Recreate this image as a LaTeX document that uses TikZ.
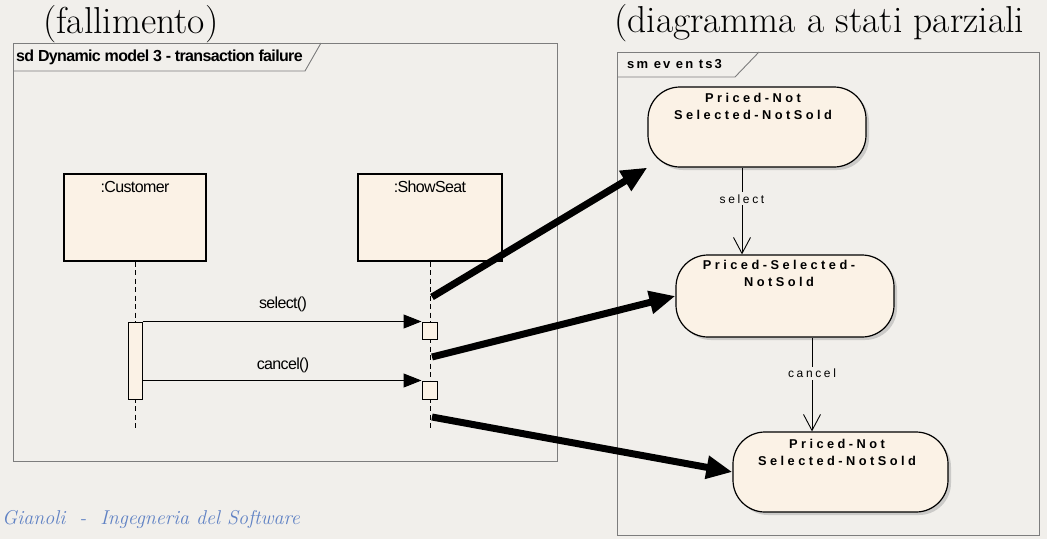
\documentclass[tikz,border=0pt]{standalone}
\usepackage{fontspec}
\usetikzlibrary{arrows.meta,shadows,calc}

% UML fonts
\newfontfamily\umlfont[LetterSpace=-4]{Liberation Sans}
\newfontfamily\statefont[LetterSpace=27]{Liberation Sans}
\newfontfamily\evfont[LetterSpace=22]{Liberation Sans}
\newfontfamily\smfont[LetterSpace=16]{Liberation Sans}

\definecolor{paper}{RGB}{241,239,235}
\definecolor{cream}{RGB}{251,242,230}
\definecolor{framegray}{RGB}{125,125,125}
\definecolor{footblue}{RGB}{96,130,196}

\begin{document}
\begin{tikzpicture}[x=1pt,y=-1pt,
  title/.style={font=\fontsize{37.5}{42}\selectfont\addfontfeatures{FakeBold=0.5}, inner sep=0pt},
  footer/.style={font=\itshape\fontsize{20}{24}\selectfont\addfontfeatures{FakeBold=0.4}, text=footblue, inner sep=0pt},
  frame/.style={draw=framegray, line width=0.9pt},
  sdtab/.style={font=\umlfont\bfseries\fontsize{16}{18}\selectfont, inner sep=0pt},
  smtab/.style={font=\smfont\bfseries\fontsize{13}{15}\selectfont, inner sep=0pt},
  obj/.style={rectangle, draw=black, fill=cream, line width=1.2pt, inner sep=0pt},
  objname/.style={font=\umlfont\fontsize{16}{18}\selectfont, inner sep=0pt},
  lifeline/.style={draw=black, line width=1pt, dash pattern=on 5pt off 3.5pt},
  msg/.style={draw=black, line width=1pt, -{Triangle[length=18pt,width=14pt]}},
  msglabel/.style={font=\umlfont\fontsize{16}{18}\selectfont, inner sep=0pt},
  state/.style={rectangle, rounded corners=32pt, draw=black, fill=cream, line width=1.2pt,
    drop shadow={shadow xshift=3pt, shadow yshift=-3pt, fill=black!35}},
  statename/.style={font=\statefont\bfseries\fontsize{12.8}{17}\selectfont, align=center, inner sep=0pt},
  trans/.style={draw=black, line width=0.9pt, -{Straight Barb[length=16pt,width=17pt]}},
  evlabel/.style={font=\evfont\fontsize{12}{14}\selectfont, fill=paper, inner xsep=1pt, inner ysep=2pt},
  link/.style={draw=black, line width=7pt, -{Triangle[length=26pt,width=22pt]}}
]
\useasboundingbox (0,0) rectangle (1047,539);
\fill[paper] (0,0) rectangle (1047,539);

% headings
\node[title, anchor=base west] (headL) at (43,33) {(fallimento)};
\node[title, anchor=base west] (headR) at (614,32) {(diagramma a stati parziali};

% sequence diagram frame
\draw[frame] (13,43) rectangle (557,461);
\draw[frame] (13,71) -- (305,71) -- (321,43);
\node[sdtab, anchor=west] (sdname) at (16,57) {sd Dynamic model 3 - transaction failure};

% participants
\node[obj, minimum width=142pt, minimum height=87pt] (cust) at (135,217.5) {};
\node[objname] (custname) at (135,187) {:Customer};
\node[obj, minimum width=144pt, minimum height=87pt] (seat) at (430,217.5) {};
\node[objname] (seatname) at (430,187) {:ShowSeat};

% lifelines
\coordinate (custend) at (135,430);
\coordinate (seatend) at (430,430);
\draw[lifeline] (cust.south) -- (custend);
\draw[lifeline] (seat.south) -- (seatend);

% activations
\node[obj, line width=1pt, minimum width=14pt, minimum height=77pt] (cact) at (135,360.5) {};
\node[obj, line width=1pt, minimum width=15pt, minimum height=17pt] (sact1) at (429.5,330.5) {};
\node[obj, line width=1pt, minimum width=15pt, minimum height=18pt] (sact2) at (429.5,390) {};

% messages
\draw[msg] (sact1.north west -| cact.east) -- (sact1.north west);
\node[msglabel] (sellab) at (283,304) {select()};
\draw[msg] (sact2.north west -| cact.east) -- (sact2.north west);
\node[msglabel] (canlab) at (283,365) {cancel()};

% state machine frame
\draw[frame] (617,52) rectangle (1039,535);
\draw[frame] (617,77) -- (735,77) -- (759,52);
\node[smtab, anchor=west] (smname) at (627,64) {sm ev en ts3};

% states
\node[state, minimum width=218pt, minimum height=80pt] (s1) at (757,127) {};
\node[statename] (s1name) at (753,106) {Priced-Not\\Selected-NotSold};
\node[state, minimum width=218pt, minimum height=82pt] (s2) at (785,296) {};
\node[statename] (s2name) at (779,273.5) {Priced-Selected-\\NotSold};
\node[state, minimum width=215pt, minimum height=80pt] (s3) at (840.5,472) {};
\node[statename] (s3name) at (837,452) {Priced-Not\\Selected-NotSold};

% transitions
\coordinate (selx) at (742,0);
\coordinate (canx) at (812,0);
\draw[trans] (s1.south -| selx) -- node[evlabel, pos=0.36] (selev) {select} (s2.north -| selx);
\draw[trans] (s2.south -| canx) -- node[evlabel, pos=0.38] (canev) {cancel} (s3.north -| canx);

% links from the lifeline to the states
\coordinate (l1) at (432,297);
\coordinate (l2) at (432,357);
\coordinate (l3) at (432,417);
\draw[link] (l1) -- (s1.south west);
\draw[link] (l2) -- (s2.west);
\draw[link] (l3) -- (s3.west);

% footer
\node[footer, anchor=base west] (foot) at (2,524) {Gianoli \ - \ Ingegneria del Software};
\end{tikzpicture}
\end{document}
